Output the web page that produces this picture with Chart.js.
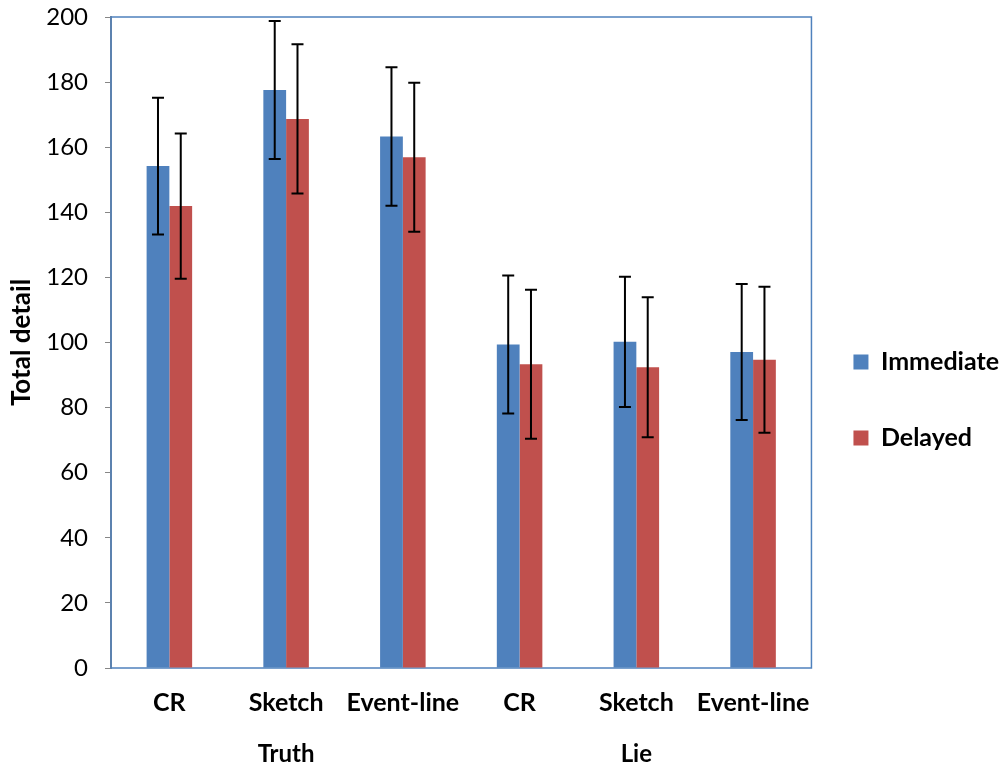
<!DOCTYPE html>
<html>
<head>
<meta charset="utf-8">
<script src="https://cdn.jsdelivr.net/npm/chart.js@4.4.0/dist/chart.umd.min.js"></script>
<style>
  body { margin: 0; background: #fff; }
  #wrap { width: 1003px; height: 769px; }
</style>
</head>
<body>
<div id="wrap"><canvas id="detailChart"></canvas></div>
<script>
const categories = ['CR', 'Sketch', 'Event-line', 'CR', 'Sketch', 'Event-line'];
const groups = [{ label: 'Truth', at: 1 }, { label: 'Lie', at: 4 }];
const immediate = [154.2, 177.6, 163.3, 99.4, 100.2, 97.1];
const delayed = [141.9, 168.7, 156.9, 93.3, 92.4, 94.7];
const immediateErr = [21.0, 21.2, 21.3, 21.2, 20.0, 20.9];
const delayedErr = [22.3, 22.9, 22.9, 22.9, 21.5, 22.4];
const yTicks = [0, 20, 40, 60, 80, 100, 120, 140, 160, 180, 200];

Chart.defaults.color = '#000';
Chart.defaults.font.family = 'Lato, "Open Sans", sans-serif';

// plot area frame (blue), drawn before the bars
const frame = {
    id: 'frame',
    beforeDatasetsDraw(chart) {
        const a = chart.chartArea, ctx = chart.ctx;
        ctx.save();
        ctx.strokeStyle = '#4F81BD';
        ctx.lineWidth = 1.5;
        ctx.strokeRect(a.left, a.top, a.right - a.left, a.bottom - a.top);
        ctx.restore();
    }
};

// error bars from the err arrays
const errorBars = {
    id: 'errorBars',
    afterDatasetsDraw(chart) {
        const ctx = chart.ctx, y = chart.scales.y;
        ctx.save();
        ctx.strokeStyle = '#000';
        ctx.lineWidth = 2;
        chart.data.datasets.forEach((ds, i) => {
            const meta = chart.getDatasetMeta(i);
            meta.data.forEach((bar, j) => {
                const v = ds.data[j], e = ds.err[j];
                const top = y.getPixelForValue(v + e);
                const bot = y.getPixelForValue(v - e);
                ctx.beginPath();
                ctx.moveTo(bar.x, top); ctx.lineTo(bar.x, bot);
                ctx.moveTo(bar.x - 6, top); ctx.lineTo(bar.x + 6, top);
                ctx.moveTo(bar.x - 6, bot); ctx.lineTo(bar.x + 6, bot);
                ctx.stroke();
            });
        });
        ctx.restore();
    }
};

// Truth / Lie labels under the category ticks
const groupLabels = {
    id: 'groupLabels',
    afterDraw(chart) {
        const ctx = chart.ctx, x = chart.scales.x;
        ctx.save();
        ctx.font = 'bold 24px Lato, "Open Sans", sans-serif';
        ctx.fillStyle = '#000';
        ctx.textAlign = 'center';
        ctx.textBaseline = 'middle';
        groups.forEach(g => ctx.fillText(g.label, x.getPixelForValue(g.at), 754));
        ctx.restore();
    }
};

const ctx = document.getElementById('detailChart').getContext('2d');
new Chart(ctx, {
    type: 'bar',
    data: {
        labels: categories,
        datasets: [
            { label: 'Immediate', data: immediate, err: immediateErr, backgroundColor: '#4F81BD' },
            { label: 'Delayed', data: delayed, err: delayedErr, backgroundColor: '#C0504D' }
        ]
    },
    options: {
        responsive: true,
        maintainAspectRatio: false,
        animation: false,
        categoryPercentage: 0.39,
        barPercentage: 1,
        layout: { padding: { top: 0, bottom: 0, left: 0, right: -6 } },
        scales: {
            x: {
                grid: { display: false, drawTicks: false },
                border: { display: false },
                ticks: { padding: 20, autoSkip: false, maxRotation: 0, minRotation: 0, font: { size: 25, weight: 'bold' } },
                afterFit: axis => { axis.height = 101; }
            },
            y: {
                min: 0,
                max: 200,
                afterBuildTicks: axis => { axis.ticks = yTicks.map(v => ({ value: v })); },
                grid: { drawOnChartArea: false, drawTicks: true, tickLength: 6, color: '#868686' },
                border: { display: true, color: '#868686', width: 2 },
                ticks: { padding: 17, font: { size: 24 } },
                title: { display: true, text: 'Total detail', font: { size: 26, weight: 'bold' }, padding: { top: 6, bottom: 4 } },
                afterFit: axis => { axis.width = 111; axis.paddingTop = 17; axis.paddingBottom = 0; }
            }
        },
        plugins: {
            legend: {
                position: 'right',
                title: { display: true, text: ' ', font: { size: 6 }, padding: { top: 33, bottom: 0 } },
                labels: {
                    boxWidth: 15,
                    boxHeight: 15,
                    padding: 42,
                    font: { size: 25, weight: 'bold', lineHeight: 34 / 25 },
                    // text as one-line arrays so the item height follows the font line height
                    generateLabels: chart => Chart.defaults.plugins.legend.labels.generateLabels(chart)
                        .map(item => Object.assign(item, { text: [item.text] }))
                }
            },
            tooltip: { enabled: false }
        }
    },
    plugins: [frame, errorBars, groupLabels]
});
</script>
</body>
</html>
